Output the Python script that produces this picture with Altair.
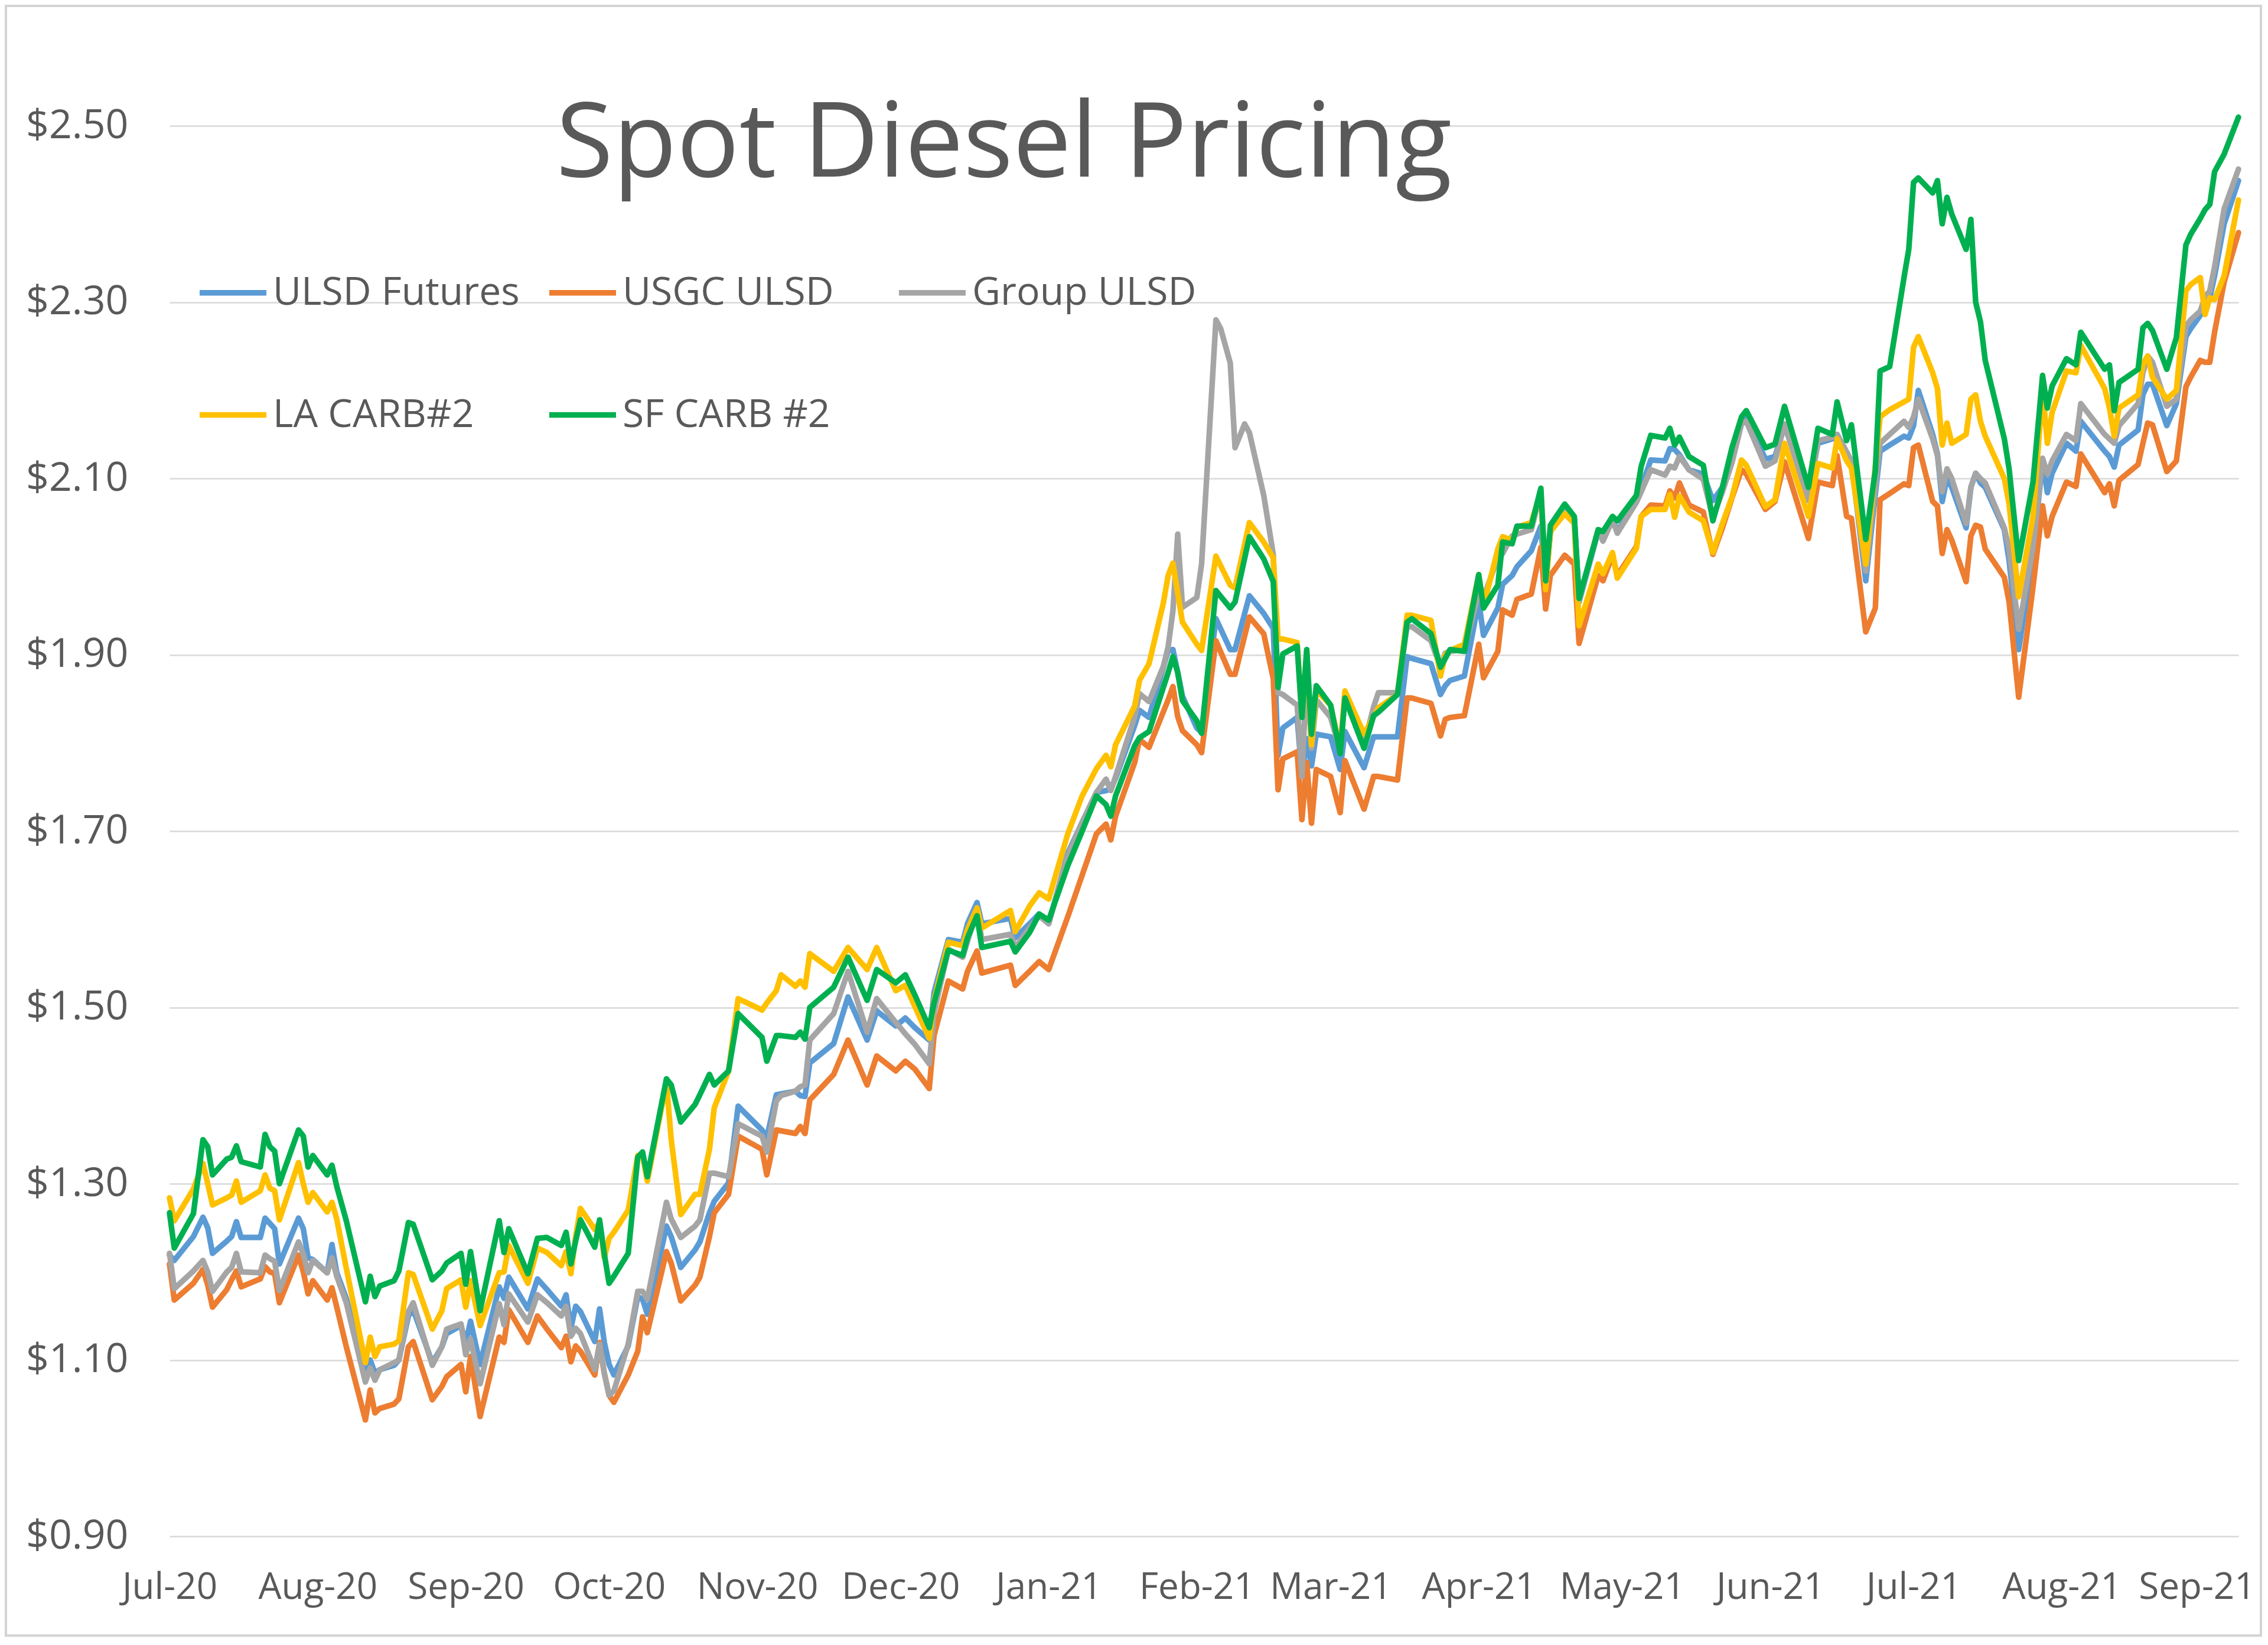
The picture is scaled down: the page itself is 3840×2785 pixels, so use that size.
import altair as alt
import pandas as pd

# ---- data (day offsets from 2020-07-01) ----
days = [
    0, 1, 5, 7, 8, 9, 12, 13, 14, 15, 19, 20, 21, 22, 23, 27, 28, 29, 30, 33, 34, 35, 37,
    41, 42, 43, 44, 47, 48, 50, 51, 55, 57, 58, 61, 62, 63, 65, 69, 70, 71,
    75, 77, 79, 82, 83, 84, 85, 86, 89, 90, 91, 92, 93, 96, 98, 99, 100, 104, 105, 107,
    110, 111, 113, 114, 117, 119, 124, 125, 127, 128, 131, 132, 133, 134, 139, 142,
    146, 148, 152, 154, 156, 159, 160, 163, 166, 167, 169, 170, 176, 177, 180, 182, 184,
    188, 191, 194, 196, 197, 198, 202, 203, 205, 208, 209, 210, 211, 212,
    215, 216, 219, 220, 222, 223, 225, 226, 229, 231, 232, 233, 236, 237, 238, 239, 240,
    243, 245, 246, 250, 252, 253, 257, 259, 260, 264, 266, 267, 268, 271, 274, 275,
    278, 279, 281, 282, 285, 287, 288,
    289, 292, 294, 295, 299, 300, 302, 303, 307, 308, 310, 313, 314, 315, 316, 318,
    321, 323, 325, 327, 329, 330, 334, 336, 338, 343, 345, 348, 349, 351, 352, 355, 357,
    358, 360, 363, 364, 365, 366, 369, 370, 371, 372, 373, 376, 377, 378, 379, 380,
    384, 385, 387, 390, 392, 393, 394, 397, 399, 400, 405, 406, 407, 408, 412, 413, 414, 415,
    418, 420, 422, 423, 425, 426, 427, 428, 430, 433,
]

ulsd_futures = [
    1.219, 1.213, 1.240, 1.262, 1.250, 1.221, 1.235, 1.240, 1.257, 1.239, 1.239, 1.261, 1.255, 1.249, 1.209,
    1.261, 1.249, 1.216, 1.214, 1.199, 1.231, 1.199, 1.170, 1.084, 1.100, 1.085, 1.089, 1.094, 1.100, 1.150,
    1.157, 1.097, 1.115, 1.130, 1.139, 1.119, 1.144, 1.095, 1.183, 1.170, 1.194,
    1.158, 1.192, 1.180, 1.161, 1.174, 1.136, 1.161, 1.155, 1.121, 1.158, 1.120, 1.095, 1.083, 1.116, 1.172,
    1.169, 1.152, 1.252, 1.240, 1.205, 1.225, 1.234, 1.267, 1.280, 1.301, 1.388, 1.361, 1.352, 1.401, 1.402,
    1.405, 1.400, 1.399, 1.437, 1.459, 1.512,
    1.463, 1.496, 1.479, 1.488, 1.477, 1.463, 1.517, 1.577, 1.574, 1.595, 1.619, 1.595, 1.601, 1.579, 1.595,
    1.606, 1.595, 1.675, 1.710, 1.744, 1.746, 1.748, 1.760, 1.820, 1.837, 1.829, None, 1.905, 1.906, 1.880, 1.853,
    1.817, 1.812, 1.941, None, 1.906, 1.906, None, 1.967, 1.947, 1.930, 1.786, 1.817, 1.829, 1.762, 1.805,
    1.774, 1.810, 1.807, 1.770, 1.813, 1.772, 1.807, 1.807, 1.807, 1.898, 1.896, 1.890, 1.855, 1.865, 1.871,
    1.876, 1.961, 1.922, 1.953, 1.980, 1.990, 2.000, 2.018, 2.046, 1.982,
    2.040, 2.070, 2.055, 1.960, 2.040, 2.030, 2.055, 2.040, 2.075, 2.090, 2.121, 2.120, 2.134, 2.133, 2.127,
    2.110, 2.105, 2.075, 2.090, 2.130, 2.165, 2.170, 2.122, 2.125, 2.160, 2.083, 2.140, 2.145, 2.150, 2.130,
    2.120, 1.984, None,
    2.131, 2.138, 2.148, 2.146, 2.160, 2.200, 2.150, 2.128, 2.074, 2.101, 2.090, 2.044, 2.090, 2.106, 2.095,
    2.090, 2.042, 2.007, 1.906, 2.012, 2.121, 2.084, 2.106, 2.140, 2.131, 2.165, 2.131, 2.125, 2.113, 2.138,
    2.155, 2.195, 2.207, 2.207, 2.160, 2.185, 2.261, 2.270, 2.285, 2.293, 2.305, 2.330, 2.389, 2.438,
]

usgc_ulsd = [
    1.209, 1.168, 1.187, 1.203, 1.185, 1.160, 1.180, 1.191, 1.201, 1.183, 1.192, 1.206, 1.200, 1.198, 1.165,
    1.219, 1.200, 1.175, 1.190, 1.168, 1.182, 1.160, 1.115, 1.032, 1.066, 1.040, 1.045, 1.050, 1.056, 1.115,
    1.121, 1.055, 1.070, 1.081, 1.095, 1.064, 1.104, 1.036, 1.126, 1.120, 1.157,
    1.120, 1.150, 1.135, 1.114, 1.127, 1.098, 1.116, 1.110, 1.083, 1.120, 1.085, 1.060, 1.052, 1.083, 1.110,
    1.149, 1.131, 1.223, 1.210, 1.167, 1.185, 1.194, 1.240, 1.267, 1.288, 1.354, 1.339, 1.310, 1.361, 1.360,
    1.357, 1.365, 1.357, 1.395, 1.424, 1.463,
    1.412, 1.445, 1.428, 1.439, 1.430, 1.408, 1.468, 1.530, 1.521, 1.541, 1.564, 1.539, 1.548, 1.525, 1.541,
    1.552, 1.543, 1.603, 1.650, 1.697, 1.708, 1.690, 1.717, 1.778, 1.804, 1.795, None, 1.849, 1.864, 1.830, 1.814,
    1.798, 1.789, 1.916, None, 1.878, 1.878, None, 1.943, 1.924, 1.873, 1.747, 1.782, 1.790, 1.713, 1.778,
    1.709, 1.770, 1.762, 1.721, 1.780, 1.725, 1.762, 1.762, 1.758, 1.851, 1.851, 1.845, 1.808, 1.827, 1.829,
    1.831, 1.912, 1.874, 1.904, 1.951, 1.945, 1.963, 1.969, 2.022, 1.952,
    1.990, 2.013, 2.003, 1.913, 1.990, 1.984, 2.013, 1.990, 2.023, 2.057, 2.070, 2.069, 2.086, 2.078, 2.095,
    2.070, 2.062, 2.014, 2.044, 2.078, 2.110, 2.105, 2.065, 2.074, 2.119, 2.032, 2.096, 2.092, 2.126, 2.057,
    2.055, 1.926, 1.953,
    2.076, 2.083, 2.094, 2.092, 2.135, 2.138, 2.074, 2.069, 2.015, 2.042, 2.030, 1.983, 2.035, 2.047, 2.045,
    2.020, 1.988, 1.960, 1.852, 1.977, 2.069, 2.035, 2.057, 2.096, 2.091, 2.128, 2.084, 2.094, 2.069, 2.098,
    2.116, 2.140, 2.163, 2.161, 2.108, 2.120, 2.204, 2.215, 2.234, 2.232, 2.232, 2.266, 2.323, 2.379,
]

group_ulsd = [
    1.221, 1.181, 1.201, 1.213, 1.200, 1.178, 1.200, 1.205, 1.221, 1.200, 1.199, 1.219, 1.215, 1.212, 1.179,
    1.234, 1.220, 1.199, 1.213, 1.199, 1.216, 1.195, 1.165, 1.075, 1.091, 1.077, 1.089, 1.097, 1.100, 1.155,
    1.165, 1.094, 1.115, 1.135, 1.141, 1.106, 1.124, 1.073, 1.164, 1.140, 1.175,
    1.143, 1.174, 1.165, 1.150, 1.161, 1.127, 1.136, 1.130, 1.089, 1.118, 1.085, 1.060, 1.065, 1.118, 1.178,
    1.178, 1.169, 1.279, 1.260, 1.239, 1.252, 1.259, 1.312, 1.312, 1.308, 1.368, 1.354, 1.336, 1.394, 1.400,
    1.405, 1.410, 1.412, 1.463, 1.493, 1.541,
    1.472, 1.510, 1.483, 1.470, 1.458, 1.436, 1.494, 1.566, 1.557, 1.575, 1.610, 1.577, 1.583, 1.568, 1.590,
    1.604, 1.595, 1.672, 1.710, 1.744, 1.759, 1.746, 1.762, 1.830, 1.856, 1.847, 1.887, 1.909, 1.950, 2.037, 1.954,
    1.965, 2.003, 2.280, 2.270, 2.231, 2.135, 2.162, 2.152, 2.081, 2.014, 1.857, 1.855, 1.843, 1.762, 1.884,
    1.794, 1.849, 1.829, 1.792, 1.851, 1.798, 1.841, 1.857, 1.857, 1.932, 1.932, 1.916, 1.886, 1.902, 1.904,
    1.906, 1.971, 1.965, 2.010, 2.015, 2.035, 2.037, 2.042, 2.085, 1.984,
    2.039, 2.070, 2.055, 1.962, 2.042, 2.029, 2.053, 2.038, 2.073, 2.085, 2.110, 2.104, 2.114, 2.112, 2.125,
    2.110, 2.099, 2.056, 2.085, 2.118, 2.162, 2.165, 2.114, 2.120, 2.162, 2.075, 2.143, 2.147, 2.150, 2.130,
    2.119, 1.995, None,
    2.140, 2.150, 2.165, 2.158, 2.170, 2.190, 2.145, 2.126, 2.085, 2.111, 2.100, 2.049, 2.090, 2.106, 2.100,
    2.095, 2.044, 2.020, 1.929, 2.022, 2.123, 2.105, 2.120, 2.150, 2.143, 2.185, 2.150, 2.145, 2.140, 2.160,
    2.185, 2.220, 2.239, 2.232, 2.182, 2.190, 2.273, 2.280, 2.290, 2.306, 2.313, 2.340, 2.406, 2.451,
]

la_carb2 = [
    1.284, 1.258, 1.294, 1.323, 1.300, 1.276, 1.284, 1.287, 1.303, 1.279, 1.292, 1.310, 1.295, 1.292, 1.259,
    1.324, 1.300, 1.279, 1.290, 1.268, 1.279, 1.260, 1.204, 1.097, 1.126, 1.104, 1.115, 1.118, 1.122, 1.199,
    1.197, 1.135, 1.156, 1.181, 1.191, 1.160, 1.190, 1.139, 1.199, 1.200, 1.230,
    1.187, 1.227, 1.222, 1.207, 1.223, 1.198, 1.240, 1.272, 1.248, 1.256, 1.216, 1.238, 1.245, 1.270, 1.332,
    1.332, 1.303, 1.415, 1.350, 1.265, 1.288, 1.288, 1.339, 1.386, 1.428, 1.510, 1.497, 1.505, 1.519, 1.537,
    1.524, 1.530, 1.523, 1.561, 1.541, 1.568,
    1.543, 1.568, 1.519, 1.525, 1.501, 1.465, 1.508, 1.574, 1.570, 1.588, 1.613, 1.590, 1.610, 1.586, 1.615,
    1.630, 1.623, 1.697, 1.740, 1.771, 1.786, 1.773, 1.798, 1.842, 1.871, 1.890, 1.959, 1.990, 2.004, 1.970, 1.937,
    1.912, 1.905, 2.012, None, 1.979, 1.976, None, 2.050, 2.028, 2.010, 1.918, 1.918, 1.914, 1.829, 1.904,
    1.798, 1.860, 1.843, 1.792, 1.859, 1.810, 1.830, 1.840, 1.855, 1.945, 1.945, 1.939, 1.876, 1.900, 1.905,
    1.912, 1.991, 1.955, 2.020, 2.034, 2.030, 2.045, 2.050, 2.085, 1.974,
    2.040, 2.060, 2.049, 1.933, 2.003, 1.992, 2.016, 1.987, 2.021, 2.057, 2.065, 2.065, 2.082, 2.056, 2.080,
    2.062, 2.052, 2.016, 2.049, 2.079, 2.121, 2.115, 2.068, 2.076, 2.140, 2.057, 2.117, 2.112, 2.145, 2.120,
    2.112, 2.003, None,
    2.170, 2.178, 2.187, 2.190, 2.249, 2.261, 2.220, 2.202, 2.138, 2.163, 2.140, 2.150, 2.190, 2.195, 2.165,
    2.148, 2.100, 2.071, 1.966, 2.057, 2.200, 2.140, 2.175, 2.222, 2.220, 2.251, 2.202, 2.180, 2.148, 2.180,
    2.195, 2.230, 2.239, 2.215, 2.190, 2.200, 2.313, 2.320, 2.328, 2.286, 2.305, 2.303, 2.330, 2.416,
]

sf_carb2 = [
    1.267, 1.227, 1.266, 1.350, 1.342, 1.310, 1.328, 1.330, 1.343, 1.325, 1.319, 1.356, 1.342, 1.337, 1.300,
    1.361, 1.354, 1.319, 1.332, 1.310, 1.321, 1.297, 1.258, 1.166, 1.195, 1.172, 1.184, 1.190, 1.201, 1.256,
    1.254, 1.191, 1.201, 1.210, 1.221, 1.186, 1.223, 1.156, 1.258, 1.222, 1.249,
    1.198, 1.238, 1.239, 1.230, 1.245, 1.209, 1.235, 1.259, 1.228, 1.259, 1.220, 1.187, 1.195, 1.221, 1.330,
    1.336, 1.308, 1.419, 1.412, 1.370, 1.390, 1.401, 1.424, 1.412, 1.428, 1.493, 1.466, 1.439, 1.468, 1.468,
    1.466, 1.472, 1.464, 1.500, 1.523, 1.557,
    1.508, 1.543, 1.528, 1.537, 1.514, 1.477, 1.505, 1.565, 1.559, 1.579, 1.604, 1.568, 1.575, 1.563, 1.585,
    1.606, 1.599, 1.661, 1.700, 1.740, 1.730, 1.717, 1.740, 1.797, 1.806, 1.813, None, 1.880, 1.898, 1.880, 1.848,
    1.825, 1.811, 1.973, None, 1.953, 1.960, None, 2.034, 2.009, 1.983, 1.863, 1.901, 1.910, 1.829, 1.906,
    1.810, 1.865, 1.843, 1.788, 1.851, 1.794, 1.831, 1.835, 1.855, 1.937, 1.941, 1.924, 1.886, 1.896, 1.906,
    1.904, 1.991, 1.953, 1.979, 2.028, 2.026, 2.046, 2.046, 2.089, 1.984,
    2.047, 2.071, 2.057, 1.964, 2.042, 2.040, 2.057, 2.052, 2.081, 2.114, 2.149, 2.146, 2.157, 2.138, 2.147,
    2.125, 2.115, 2.052, 2.090, 2.135, 2.170, 2.177, 2.135, 2.139, 2.182, 2.090, 2.157, 2.150, 2.187, 2.143,
    2.161, 2.031, 2.109,
    2.222, 2.227, 2.328, 2.360, 2.436, 2.441, 2.424, 2.438, 2.389, 2.419, 2.400, 2.360, 2.394, 2.300, 2.278,
    2.234, 2.145, 2.111, 2.007, 2.096, 2.217, 2.180, 2.205, 2.236, 2.229, 2.266, 2.224, 2.229, 2.177, 2.209,
    2.224, 2.271, 2.276, 2.268, 2.224, 2.260, 2.365, 2.377, 2.395, 2.405, 2.411, 2.448, 2.468, 2.510,
]

series_names = ["ULSD Futures", "USGC ULSD", "Group ULSD", "LA CARB#2", "SF CARB #2"]
series_colors = ["#5B9BD5", "#ED7D31", "#A5A5A5", "#FFC000", "#00B050"]
y_ticks = [0.90, 1.10, 1.30, 1.50, 1.70, 1.90, 2.10, 2.30, 2.50]
title_text = "Spot Diesel Pricing"

# ---- build long table ----
start = pd.Timestamp("2020-07-01")
rows = []
for name, vals in zip(series_names, [ulsd_futures, usgc_ulsd, group_ulsd, la_carb2, sf_carb2]):
    assert len(vals) == len(days), (name, len(vals), len(days))
    for d, v in zip(days, vals):
        if v is not None:
            rows.append({"date": start + pd.Timedelta(days=d), "series": name, "price": v})
df = pd.DataFrame(rows)

month_ticks = [alt.DateTime(year=2020 + (6 + i) // 12, month=(6 + i) % 12 + 1, date=1) for i in range(15)]

FONT = "Open Sans"
TXT = "#595959"
LW = 9.5
W, H = 3503, 2537
PAD = {"left": 279, "top": 56, "right": 40, "bottom": 170}

lines = alt.Chart(df).mark_line(strokeWidth=LW, strokeJoin="round", strokeCap="round").encode(
    x=alt.X(
        "date:T",
        scale=alt.Scale(domain=[alt.DateTime(year=2020, month=7, date=1),
                                alt.DateTime(year=2021, month=9, date=7)]),
        axis=alt.Axis(
            title=None, values=month_ticks, format="%b-%y", grid=False, ticks=False,
            domain=False, labelFlush=False, labelOverlap=False, labelBound=False,
            labelLimit=0, labelFontSize=62, labelFont=FONT, labelColor=TXT, labelPadding=56,
            labelOffset={"condition": {"test": "datum.index == 1", "value": -22}, "value": 0},
        ),
    ),
    y=alt.Y(
        "price:Q",
        scale=alt.Scale(domain=[0.9, 2.6], nice=False, zero=False),
        axis=alt.Axis(
            title=None, values=y_ticks, format="$.2f", ticks=False, domain=False,
            grid=True, gridColor="#D9D9D9", gridWidth=2.5,
            labelFontSize=68, labelFont=FONT, labelColor=TXT, labelPadding=70,
        ),
    ),
    color=alt.Color(
        "series:N",
        scale=alt.Scale(domain=series_names, range=series_colors),
        legend=alt.Legend(
            title=None, orient="none", legendX=46, legendY=370, columns=3,
            direction="horizontal", gridAlign="all", symbolType="stroke",
            symbolSize=12769, symbolStrokeWidth=LW,
            labelFontSize=66, labelFont=FONT, labelColor=TXT, labelOffset=6,
            rowPadding=112, columnPadding=31, padding=0, labelLimit=0,
        ),
    ),
)

title = alt.Chart(pd.DataFrame({"t": [title_text]})).mark_text(
    font=FONT, fontSize=176, color=TXT, align="center", baseline="alphabetic"
).encode(text="t:N", x=alt.value(1413), y=alt.value(235))

# thin outer frame of the chart area, as in the reference
frame = alt.Chart(pd.DataFrame({"f": [0]})).mark_rect(
    fill=None, stroke="#D4D4D4", strokeWidth=4
).encode(
    x=alt.value(-PAD["left"] + 2), x2=alt.value(W + PAD["right"] - 2),
    y=alt.value(-PAD["top"] + 2), y2=alt.value(H + PAD["bottom"] - 2),
)

chart = alt.layer(frame, lines, title).properties(
    width=W,
    height=H,
    autosize=alt.AutoSizeParams(type="none"),
    padding=PAD,
    background="white",
).configure_view(strokeOpacity=0)

chart.save("out.html", embed_options={"renderer": "svg", "actions": False})
